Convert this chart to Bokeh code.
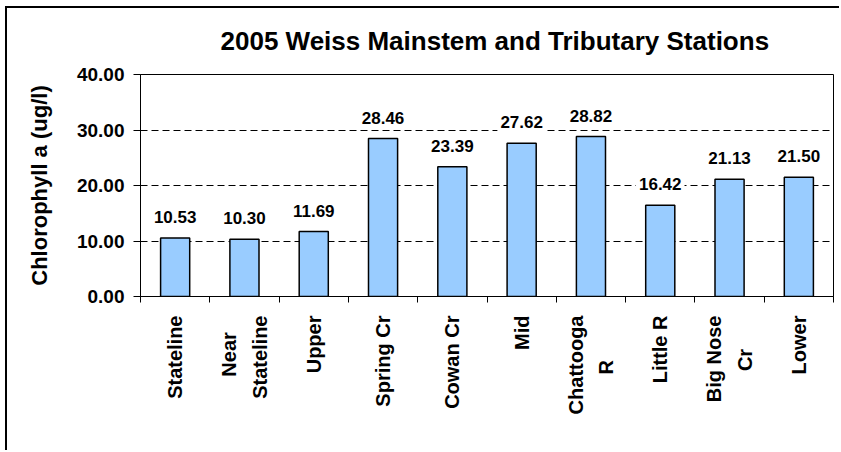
from bokeh.plotting import figure
from bokeh.models import (Range1d, LinearAxis, FixedTicker, NumeralTickFormatter,
                          ColumnDataSource, Title, Grid)
from bokeh.core.properties import value
from bokeh.embed import file_html
from bokeh.resources import INLINE
import numpy as np

# Mean chlorophyll a by station, 2005
title_text = "2005 Weiss Mainstem and Tributary Stations"
stations = ["Stateline", "Near\nStateline", "Upper", "Spring Cr", "Cowan Cr",
            "Mid", "Chattooga\nR", "Little R", "Big Nose\nCr", "Lower"]
chl_a = [10.53, 10.30, 11.69, 28.46, 23.39, 27.62, 28.82, 16.42, 21.13, 21.50]
y_ticks = [0, 10, 20, 30, 40]

FONT = "Liberation Sans"

# Approximate advance widths (1/1000 em) of the bold face, used to centre
# the lines of two-line station names against each other.
_W = {"A": 722, "B": 722, "C": 722, "L": 611, "M": 833, "N": 722, "R": 722,
      "S": 667, "U": 722, "a": 556, "b": 611, "c": 556, "d": 611, "e": 556,
      "g": 611, "h": 611, "i": 278, "l": 278, "n": 611, "o": 611, "p": 611,
      "r": 389, "s": 556, "t": 333, "w": 778, "y": 556, " ": 278}
NBSP = "\u00a0"


def centre_lines(label):
    lines = label.split("\n")
    widths = [sum(_W.get(c, 556) for c in ln) for ln in lines]
    wmax = max(widths)
    return "\n".join(ln + NBSP * int(round((wmax - w) / 2 / 278))
                     for ln, w in zip(lines, widths))


xpos = np.arange(len(stations)) + 0.5
src = ColumnDataSource(dict(x=xpos, y=chl_a, lab=[f"{v:.2f}" for v in chl_a]))

p = figure(width=834, height=444, output_backend="svg", toolbar_location=None,
           x_range=Range1d(0, len(stations)), y_range=Range1d(0, y_ticks[-1]),
           x_axis_type=None, y_axis_type=None,
           min_border_left=133, min_border_right=8, min_border_top=66,
           min_border_bottom=156)
p.styles = {"margin-left": "5px", "margin-top": "6px",
            "border-left": "2px solid #000", "border-top": "2px solid #000"}

p.background_fill_color = "white"
p.border_fill_color = "white"
p.outline_line_color = "#000"
p.outline_line_width = 1

p.title = Title(text=title_text, align="left", vertical_align="top",
                offset=80, standoff=34,
                text_font=FONT, text_font_style="bold", text_font_size="26px",
                text_color="#000")

# y axis
yax = LinearAxis(ticker=FixedTicker(ticks=y_ticks, minor_ticks=[]),
                 formatter=NumeralTickFormatter(format="0.00"),
                 axis_label="Chlorophyll a (ug/l)")
yax.axis_label_text_font = FONT
yax.axis_label_text_font_style = "bold"
yax.axis_label_text_font_size = "22px"
yax.axis_label_text_color = "#000"
yax.axis_label_standoff = 22
yax.major_label_text_font = FONT
yax.major_label_text_font_style = "bold"
yax.major_label_text_font_size = "19px"
yax.major_label_text_color = "#000"
yax.major_label_standoff = 9
yax.major_tick_out = 7
yax.major_tick_in = 0
yax.minor_tick_out = 0
yax.axis_line_color = "#000"
yax.major_tick_line_color = "#000"
p.add_layout(yax, "left")

# x axis: names at station centres, tick marks on category boundaries
xax = LinearAxis(ticker=FixedTicker(ticks=list(xpos),
                                    minor_ticks=list(range(len(stations) + 1))))
xax.major_label_overrides = {float(x): centre_lines(s) for x, s in zip(xpos, stations)}
xax.major_label_orientation = np.pi / 2
xax.major_label_text_font = FONT
xax.major_label_text_font_style = "bold"
xax.major_label_text_font_size = "20px"
xax.major_label_text_line_height = 1.4
xax.major_label_text_color = "#000"
xax.major_label_standoff = 13
xax.major_tick_out = 0
xax.major_tick_in = 0
xax.minor_tick_out = 6
xax.minor_tick_in = 0
xax.minor_tick_line_color = "#000"
xax.axis_line_color = "#000"
p.add_layout(xax, "below")

# dashed horizontal gridlines
p.add_layout(Grid(dimension=1, ticker=FixedTicker(ticks=y_ticks),
                  grid_line_color="#000", grid_line_dash="7 4", grid_line_width=1))

p.vbar(x="x", top="y", width=0.42, bottom=0, source=src,
       fill_color="#99CCFF", line_color="#000", line_width=1.5)

# value labels above the bars, on a white box
p.text(x="x", y="y", text="lab", source=src, y_offset=-21,
       text_align="center", text_baseline="alphabetic",
       text_font=value(FONT), text_font_style="bold", text_font_size="17px",
       text_color="#000", background_fill_color="white", padding=3)

open("out.html", "w").write(file_html(p, INLINE))
